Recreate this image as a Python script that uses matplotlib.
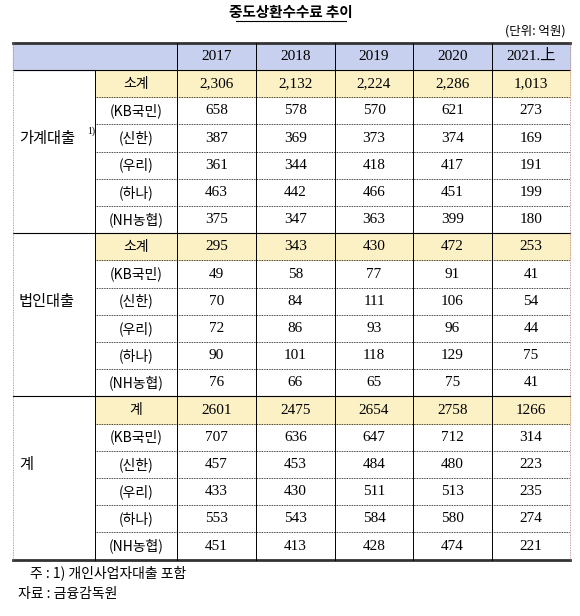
import matplotlib
matplotlib.use("Agg")
import matplotlib.pyplot as plt

title = "중도상환수수료 추이"
unit = "(단위: 억원)"
years = ["2017", "2018", "2019", "2020", "2021.上"]
groups = ["가계대출", "법인대출", "계"]
subs = [["소계", "(KB국민)", "(신한)", "(우리)", "(하나)", "(NH농협)"],
        ["소계", "(KB국민)", "(신한)", "(우리)", "(하나)", "(NH농협)"],
        ["계", "(KB국민)", "(신한)", "(우리)", "(하나)", "(NH농협)"]]
household = [["2,306", "2,132", "2,224", "2,286", "1,013"],
             ["658", "578", "570", "621", "273"],
             ["387", "369", "373", "374", "169"],
             ["361", "344", "418", "417", "191"],
             ["463", "442", "466", "451", "199"],
             ["375", "347", "363", "399", "180"]]
corporate = [["295", "343", "430", "472", "253"],
             ["49", "58", "77", "91", "41"],
             ["70", "84", "111", "106", "54"],
             ["72", "86", "93", "96", "44"],
             ["90", "101", "118", "129", "75"],
             ["76", "66", "65", "75", "41"]]
total = [["2601", "2475", "2654", "2758", "1266"],
         ["707", "636", "647", "712", "314"],
         ["457", "453", "484", "480", "223"],
         ["433", "430", "511", "513", "235"],
         ["553", "543", "584", "580", "274"],
         ["451", "413", "428", "474", "221"]]
notes = ["주 : 1) 개인사업자대출 포함", "자료 : 금융감독원"]

KR = ["Noto Sans CJK KR", "DejaVu Sans"]
SERIF = ["Liberation Serif", "Noto Sans CJK KR"]

fig = plt.figure(figsize=(5.8, 6.16), dpi=100)
ax = fig.add_axes([0, 0, 1, 1])
ax.set_xlim(0, 580); ax.set_ylim(616, 0); ax.axis("off")

L, R = 13, 570
cols = [13, 95, 177, 256, 335, 413, 492, 570]
top, hb = 43, 70
rh = 27.2
nrows = 18

ax.text(291, 12, title, ha="center", va="center", fontsize=10.5, family=KR, fontweight="bold")
ax.plot([236, 346], [21, 21], color="black", lw=0.8)
ax.text(566, 31, unit, ha="right", va="center", fontsize=9, family=KR)

ax.add_patch(plt.Rectangle((L, top), R - L, hb - top, color="#C7D0EE", zorder=0))
for i, y in enumerate(years):
    ax.text((cols[i + 2] + cols[i + 3]) / 2, (top + hb) / 2, y, ha="center", va="center",
            fontsize=11, family=SERIF)

data = [household, corporate, total]
for g in range(3):
    y0 = hb + g * 6 * rh
    ax.add_patch(plt.Rectangle((cols[1], y0), R - cols[1], rh, color="#FBF1C5", zorder=0))
    ax.text(19, y0 + 2.5 * rh, groups[g], ha="left", va="center", fontsize=11, family=KR)
    if g == 0:
        ax.text(87, y0 + 2.25 * rh, "1)", ha="left", va="center", fontsize=7, family=SERIF)
    for r in range(6):
        yc = y0 + (r + 0.5) * rh
        ax.text((cols[1] + cols[2]) / 2, yc, subs[g][r], ha="center", va="center",
                fontsize=10, family=KR)
        for c in range(5):
            ax.text((cols[c + 2] + cols[c + 3]) / 2, yc, data[g][r][c], ha="center",
                    va="center", fontsize=11, family=SERIF)
        if r > 0:
            ax.plot([cols[1], R], [y0 + r * rh] * 2, color="black", lw=0.6, ls=(0, (1, 1)))
    if g > 0:
        ax.plot([L, R], [y0, y0], color="black", lw=0.8)

bottom = hb + nrows * rh
ax.plot([L, R], [top, top], color="#333333", lw=2)
ax.plot([L, R], [hb, hb], color="black", lw=0.8)
ax.plot([L, R], [bottom, bottom], color="#333333", lw=2)
for x in cols[2:-1]:
    ax.plot([x, x], [top, bottom], color="black", lw=0.7)
ax.plot([cols[1], cols[1]], [hb, bottom], color="black", lw=0.7)
ax.plot([cols[2], cols[2]], [top, hb], color="black", lw=0.7)
ax.plot([L, L], [top, bottom], color="#b08080", lw=0.6, ls=(0, (1, 1)))
ax.plot([R, R], [top, bottom], color="#b08080", lw=0.6, ls=(0, (1, 1)))

ax.text(30, 573, notes[0], ha="left", va="center", fontsize=10, family=KR)
ax.text(18, 594, notes[1], ha="left", va="center", fontsize=10, family=KR)

fig.savefig("out.png", dpi=100, facecolor="white")
